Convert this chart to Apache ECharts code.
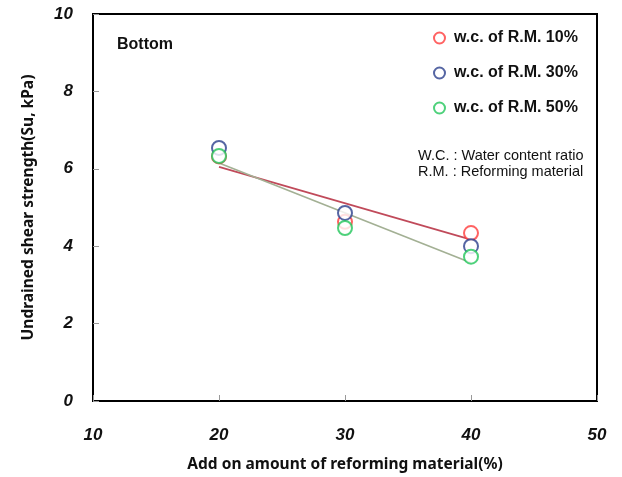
<!DOCTYPE html>
<html>
<head>
<meta charset="utf-8">
<script src="https://cdn.jsdelivr.net/npm/echarts@6/dist/echarts.min.js"></script>
<style>html,body{margin:0;padding:0;background:#fff}#c{width:622px;height:477px}</style>
</head>
<body>
<div id="c"></div>
<script>
var addAmount = [20, 30, 40];
var seriesNames = ['w.c. of R.M. 10%', 'w.c. of R.M. 30%', 'w.c. of R.M. 50%'];
var su10 = [6.32, 4.63, 4.34];
var su30 = [6.54, 4.86, 4.0];
var su50 = [6.33, 4.47, 3.73];
var trendX = [20, 40];
var trendA = [6.05, 4.17];
var trendB = [6.15, 3.57];
var xTicks = [10, 20, 30, 40, 50];
var yTicks = [0, 2, 4, 6, 8, 10];

var colors = ['#ff3b3b', '#2b3f8c', '#22c55a'];
function pairs(xs, ys) { return xs.map(function (x, i) { return [x, ys[i]]; }); }

var chart = echarts.init(document.getElementById('c'), null, { renderer: 'canvas' });
var lab = { fontFamily: 'Liberation Sans Narrow, Arial, sans-serif', fontStyle: 'italic', fontWeight: 'bold', fontSize: 17, color: '#111' };
chart.setOption({
  animation: false,
  backgroundColor: '#fff',
  grid: { left: 93, top: 14, right: 25, bottom: 76, outerBoundsMode: 'none', containLabel: false, show: true, borderColor: '#000', borderWidth: 2, backgroundColor: 'transparent' },
  xAxis: {
    type: 'value', min: xTicks[0], max: xTicks[xTicks.length - 1], interval: 10,
    name: 'Add on amount of reforming material(%)', nameLocation: 'middle', nameGap: 56,
    nameTextStyle: { fontFamily: 'Noto Sans, Arial, sans-serif', fontSize: 15.5, fontWeight: 'bold', color: '#111' },
    axisLine: { show: true, lineStyle: { color: '#000', width: 2 } },
    axisTick: { show: true, inside: true, length: 6, lineStyle: { color: '#999', width: 1 } },
    axisLabel: Object.assign({ margin: 26 }, lab),
    splitLine: { show: false }
  },
  yAxis: {
    type: 'value', min: yTicks[0], max: yTicks[yTicks.length - 1], interval: 2,
    name: 'Undrained shear strength(Su, kPa)', nameLocation: 'middle', nameGap: 56,
    nameTextStyle: { fontFamily: 'Noto Sans, Arial, sans-serif', fontSize: 15.5, fontWeight: 'bold', color: '#111' },
    axisLine: { show: true, lineStyle: { color: '#000', width: 2 } },
    axisTick: { show: true, inside: true, length: 6, lineStyle: { color: '#999', width: 1 } },
    axisLabel: Object.assign({ margin: 20 }, lab),
    splitLine: { show: false }
  },
  legend: {
    orient: 'vertical', left: 428, top: 25, itemGap: 19, itemWidth: 11, itemHeight: 11,
    icon: 'emptyCircle',
    data: seriesNames,
    textStyle: { fontFamily: 'Arial, Liberation Sans, sans-serif', fontWeight: 'bold', fontSize: 16, color: '#111', padding: [0, 0, 0, 4] }
  },
  graphic: [
    { type: 'text', left: 117, top: 37, style: { text: 'Bottom', font: 'bold 16px Arial, Liberation Sans, sans-serif', fill: '#111' } },
    { type: 'text', left: 418, top: 148, style: { text: 'W.C. : Water content ratio\nR.M. : Reforming material', font: '14.5px "Liberation Sans Narrow", Arial, sans-serif', fill: '#111', lineHeight: 16 } }
  ],
  series: [
    { type: 'line', data: pairs(trendX, trendA), symbol: 'none', lineStyle: { color: '#c04a5a', width: 1.6 }, z: 1, silent: true },
    { type: 'line', data: pairs(trendX, trendB), symbol: 'none', lineStyle: { color: '#a3b094', width: 1.6 }, z: 1, silent: true },
    { name: seriesNames[0], type: 'scatter', data: pairs(addAmount, su10), symbol: 'emptyCircle', symbolSize: 14, itemStyle: { color: colors[0], borderColor: colors[0], borderWidth: 2 }, z: 3 },
    { name: seriesNames[1], type: 'scatter', data: pairs(addAmount, su30), symbol: 'emptyCircle', symbolSize: 14, itemStyle: { color: colors[1], borderColor: colors[1], borderWidth: 2 }, z: 4 },
    { name: seriesNames[2], type: 'scatter', data: pairs(addAmount, su50), symbol: 'emptyCircle', symbolSize: 14, itemStyle: { color: colors[2], borderColor: colors[2], borderWidth: 2 }, z: 5 }
  ]
});
</script>
</body>
</html>
